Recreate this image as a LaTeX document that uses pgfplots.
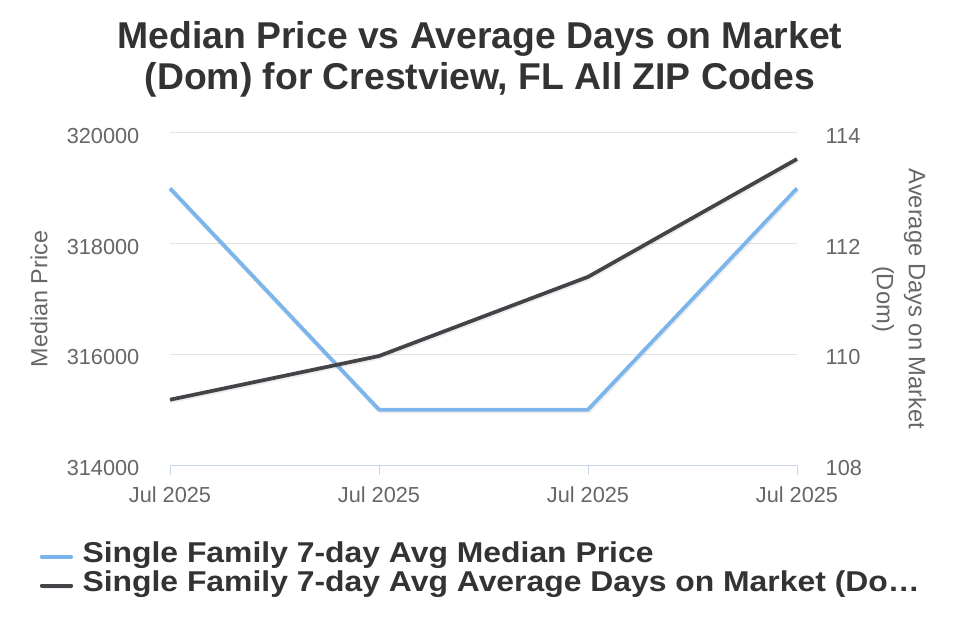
\documentclass[border=0pt]{standalone}
\usepackage{fontspec}
\setmainfont{Liberation Sans}
\usepackage{graphicx}
\usepackage{pgfplots}
\usepackage{pgfplotstable}
\pgfplotsset{compat=1.18}

\definecolor{priceblue}{HTML}{7CB5EC}
\definecolor{domgray}{HTML}{434348}
\definecolor{gridgray}{HTML}{E3E3E3}
\definecolor{axisblue}{HTML}{CCD6EB}
\definecolor{ticktext}{HTML}{666666}
\definecolor{titletext}{HTML}{333333}

% Single family 7-day average median price
\pgfplotstableread{
idx price
0 319000
1 315000
2 315000
3 319000
}\pricedata

% Single family 7-day average days on market
\pgfplotstableread{
idx dom
0 109.18
1 109.97
2 111.40
3 113.53
}\domdata

\pgfplotsset{
  base/.style={
    scale only axis, width=470.25pt, height=249pt,
    at={(127.5pt,131.25pt)}, anchor=south west,
    xmin=0, xmax=3,
    xtick={0,1,2,3},
    xticklabels={Jul 2025,Jul 2025,Jul 2025,Jul 2025},
    tick label style={font=\fontsize{16.3}{19}\selectfont, text=ticktext},
    /pgf/number format/assume math mode=true,
    /pgf/number format/fixed,
    /pgf/number format/precision=0,
    /pgf/number format/1000 sep={},
    scaled y ticks=false,
    y tick style={draw=none},
    label style={font=\fontsize{17.5}{21}\selectfont, text=ticktext},
    clip=false,
  },
  series/.style={line width=2.8pt, line join=round,
    preaction={draw=black, opacity=0.07, line width=3.6pt,
      transform canvas={xshift=0.6pt, yshift=-0.9pt}}},
}

\begin{document}
\begin{tikzpicture}
\useasboundingbox (0,0) rectangle (720pt,480pt);

% title
\node[anchor=base, font=\bfseries\fontsize{28}{31}\selectfont, text=titletext]
  at (360pt,443.8pt) {Median Price vs Average Days on Market};
\node[anchor=base, font=\bfseries\fontsize{28}{31}\selectfont, text=titletext]
  at (360pt,413pt) {(Dom) for Crestview, FL All ZIP Codes};

% left axis: median price
\begin{axis}[base,
  axis x line*=bottom, axis y line*=left,
  y axis line style={draw=none},
  x axis line style={axisblue, line width=0.75pt, -},
  x tick style={axisblue, line width=0.75pt},
  tick align=outside, major tick length=7.5pt,
  xticklabel style={anchor=north, yshift=-5pt},
  ymin=314000, ymax=320000,
  ytick={314000,316000,318000,320000},
  yticklabel style={anchor=east, xshift=-12pt, yshift=-2.25pt},
  ymajorgrids, major grid style={gridgray, line width=0.75pt},
  ylabel={Median Price},
  ylabel style={at={(axis description cs:-0.209,0.5)}, anchor=center},
]
\addplot[priceblue, series] table[x=idx, y=price] {\pricedata};
\end{axis}

% right axis: average days on market
\begin{axis}[base,
  axis y line*=right, axis x line=none,
  y axis line style={draw=none},
  ymin=108, ymax=114,
  ytick={108,110,112,114},
  yticklabel style={anchor=west, xshift=18pt, yshift=-2.25pt},
  legend style={
    at={(axis description cs:-0.208,-0.232)}, anchor=north west,
    draw=none, fill=none, inner sep=0pt, row sep=0pt,
    font=\bfseries\fontsize{21.5}{23}\selectfont, text=titletext,
    nodes={inner ysep=0pt, inner xsep=0pt, text height=15pt, text depth=6.75pt},
    /tikz/every odd column/.append style={column sep=7pt},
  },
  legend cell align=left,
  legend image code/.code={\draw[#1, line width=3pt, line cap=round] (0pt,0pt) -- (22pt,0pt);},
]
\addlegendimage{priceblue}
\addlegendentry{\scalebox{1.112}[1]{Single Family 7-day Avg Median Price}}
\addplot[domgray, series] table[x=idx, y=dom] {\domdata};
\addlegendentry{\scalebox{1.112}[1]{Single Family 7-day Avg Average Days on Market (Do…}}
\node[rotate=-90, align=center, font=\fontsize{17.8}{24}\selectfont, text=ticktext]
  at (axis description cs:1.1627,0.5) {Average Days on Market\\(Dom)};
\end{axis}
\end{tikzpicture}
\end{document}
